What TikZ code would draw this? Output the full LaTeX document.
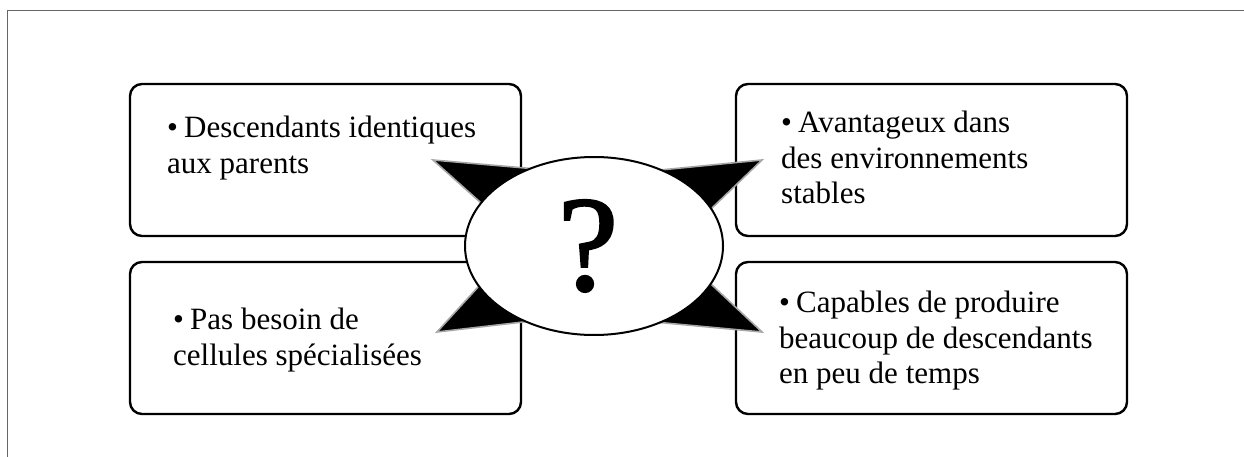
\documentclass[tikz,border=0pt]{standalone}
\usepackage{fontspec}
\setmainfont{Liberation Serif}
\newfontfamily\qfont{Liberation Serif}[FakeBold=1.6]
\usetikzlibrary{shapes.geometric}

\begin{document}
\begin{tikzpicture}
			[x=1pt,y=-1pt,
			box/.style={draw,line width=2.4pt,rounded corners=12pt,minimum width=391pt,minimum height=152pt},
			txt/.style={anchor=north west,align=left,inner sep=0pt,font=\fontsize{31}{35.5}\selectfont},
			spike/.style={fill=black,draw=black!35,line width=1.6pt,line join=miter}]
			\useasboundingbox (0,0) rectangle (1244,457);
			\draw[black!60,line width=1pt] (7,457) -- (7,11) -- (1244,11);

			\node[box] (tl) at (325.5,160) {};
			\node[box] (bl) at (325.5,338) {};
			\node[box] (tr) at (931.5,160) {};
			\node[box] (br) at (931.5,338) {};

			\node[txt] (tltxt) at (167,116) {•\hspace{0.2em}Descendants identiques\\aux parents};
			\node[txt] (trtxt) at (781,111) {•\hspace{0.2em}Avantageux dans\\des environnements\\stables};
			\node[txt] (bltxt) at (173,308) {•\hspace{0.2em}Pas besoin de\\cellules spécialisées};
			\node[txt] (brtxt) at (779,291) {•\hspace{0.2em}Capables de produire\\beaucoup de descendants\\en peu de temps};

			\coordinate (q) at (594,246);
			\foreach \tip/\a/\b in {{433,160}/{571,172}/{527,244},{762,160}/{640,172}/{662,256},
				{437,332}/{511,251}/{566,317},{762,332}/{662,238}/{633,320}}
			\draw[spike] (\tip) -- (\a) -- (q) -- (\b) -- cycle;

			\node[ellipse,draw,fill=white,line width=2pt,minimum width=258pt,minimum height=178pt,
				inner sep=0pt] (qmark) at (q) {};
			\node[inner sep=0pt,font=\qfont\fontsize{136}{136}\selectfont] (qsign) at ([xshift=-6pt]q) {?};

			\end{tikzpicture}
\end{document}
